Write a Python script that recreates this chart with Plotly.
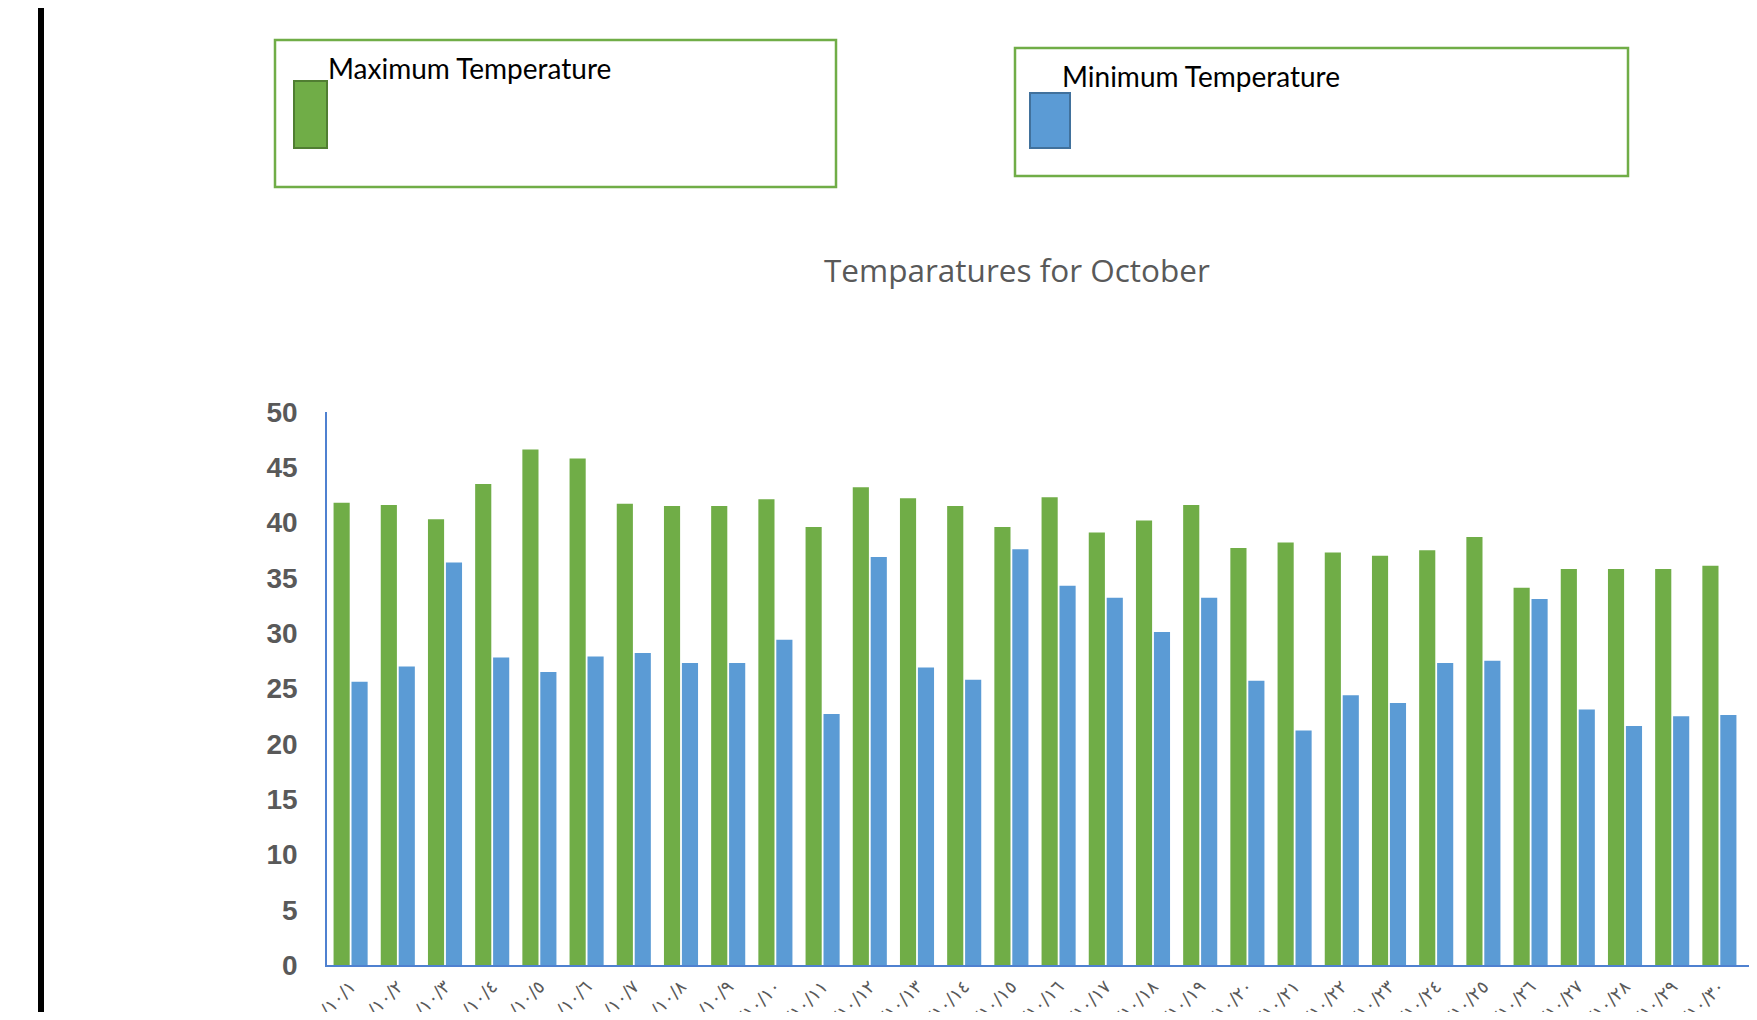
import plotly.graph_objects as go

# ---------------- data ----------------
AR = "٠١٢٣٤٥٦٧٨٩"
def ar(n):
    return "".join(AR[int(c)] for c in str(n))

days = list(range(1, 32))
day_labels = [ar(2020) + "/" + ar(10) + "/" + ar(d) for d in days]

max_temp = [41.8, 41.6, 40.3, 43.5, 46.6, 45.8, 41.7, 41.5, 41.5, 42.1,
            39.6, 43.2, 42.2, 41.5, 39.6, 42.3, 39.1, 40.2, 41.6, 37.7,
            38.2, 37.3, 37.0, 37.5, 38.7, 34.1, 35.8, 35.8, 35.8, 36.1, 35.7]
min_temp = [25.6, 27.0, 36.4, 27.8, 26.5, 27.9, 28.2, 27.3, 27.3, 29.4,
            22.7, 36.9, 26.9, 25.8, 37.6, 34.3, 33.2, 30.1, 33.2, 25.7,
            21.2, 24.4, 23.7, 27.3, 27.5, 33.1, 23.1, 21.6, 22.5, 22.6, 22.8]

series_names = ["Maximum Temperature", "Minimum Temperature"]
title_text = "Temparatures for October"
y_ticks = [0, 5, 10, 15, 20, 25, 30, 35, 40, 45, 50]

GREEN = "#70AD47"
BLUE = "#5B9BD5"

# ---------------- layout geometry (page pixels; body has 8px margin) ----------------
OFF = 8
W, H = 1757 - OFF, 1020 - 2 * OFF
L, R, T = 327 - OFF, 0, 412 - OFF
B = H - (965 - OFF)
PW = W - L - R
PH = H - T - B

def px(x):
    return (x - OFF - L) / PW

def py(y):
    return (H - B - (y - OFF)) / PH

fig = go.Figure()
fig.add_trace(go.Bar(x=list(range(len(days))), y=max_temp, name=series_names[0],
                     marker=dict(color=GREEN, line=dict(width=0))))
fig.add_trace(go.Bar(x=list(range(len(days))), y=min_temp, name=series_names[1],
                     marker=dict(color=BLUE, line=dict(width=0))))

shapes = [
    # left black vertical line
    dict(type="rect", xref="paper", yref="paper", x0=px(38), x1=px(44), y0=py(1030), y1=py(0),
         fillcolor="black", line=dict(width=0), layer="above"),
    # legend box 1
    dict(type="rect", xref="paper", yref="paper", x0=px(275), x1=px(836), y0=py(187), y1=py(40),
         fillcolor="rgba(0,0,0,0)", line=dict(color=GREEN, width=2.5)),
    dict(type="rect", xref="paper", yref="paper", x0=px(294), x1=px(327), y0=py(148), y1=py(81),
         fillcolor=GREEN, line=dict(color="#507E32", width=2)),
    # legend box 2
    dict(type="rect", xref="paper", yref="paper", x0=px(1015), x1=px(1628), y0=py(176), y1=py(48),
         fillcolor="rgba(0,0,0,0)", line=dict(color=GREEN, width=2.5)),
    dict(type="rect", xref="paper", yref="paper", x0=px(1030), x1=px(1070), y0=py(148), y1=py(93),
         fillcolor=BLUE, line=dict(color="#41719C", width=2)),
]

annotations = [
    dict(text=series_names[0], xref="paper", yref="paper", x=px(326), y=py(68),
         xanchor="left", yanchor="middle", showarrow=False,
         font=dict(family="Lato", size=28, color="black")),
    dict(text=series_names[1], xref="paper", yref="paper", x=px(1060), y=py(76),
         xanchor="left", yanchor="middle", showarrow=False,
         font=dict(family="Lato", size=28, color="black")),
    dict(text=title_text, xref="paper", yref="paper", x=px(1017), y=py(270),
         xanchor="center", yanchor="middle", showarrow=False,
         font=dict(family="Open Sans", size=31.5, color="#595959")),
]

fig.update_layout(
    width=W, height=H,
    margin=dict(l=L, r=R, t=T, b=B, pad=0),
    paper_bgcolor="white", plot_bgcolor="white",
    showlegend=False,
    barmode="group", bargap=0.24, bargroupgap=0.1,
    shapes=shapes, annotations=annotations,
)

fig.update_xaxes(
    range=[-0.5, -0.5 + PW / 47.2],
    tickmode="array", tickvals=list(range(len(days))), ticktext=day_labels,
    tickangle=-45, ticks="", showgrid=False, zeroline=False,
    showline=True, linecolor="#4F81D0", linewidth=2,
    tickfont=dict(family="DejaVu Sans", size=18, color="#595959"),
    ticklabelstandoff=2, automargin=False,
)
fig.update_yaxes(
    range=[0, 50], tickmode="array", tickvals=y_ticks,
    ticks="", showgrid=False, zeroline=False,
    showline=True, linecolor="#4F81D0", linewidth=1.5,
    tickfont=dict(family="Liberation Sans", size=28, color="#595959", weight="bold"),
    ticklabelstandoff=22, automargin=False,
)

fig.write_html("out.html")
